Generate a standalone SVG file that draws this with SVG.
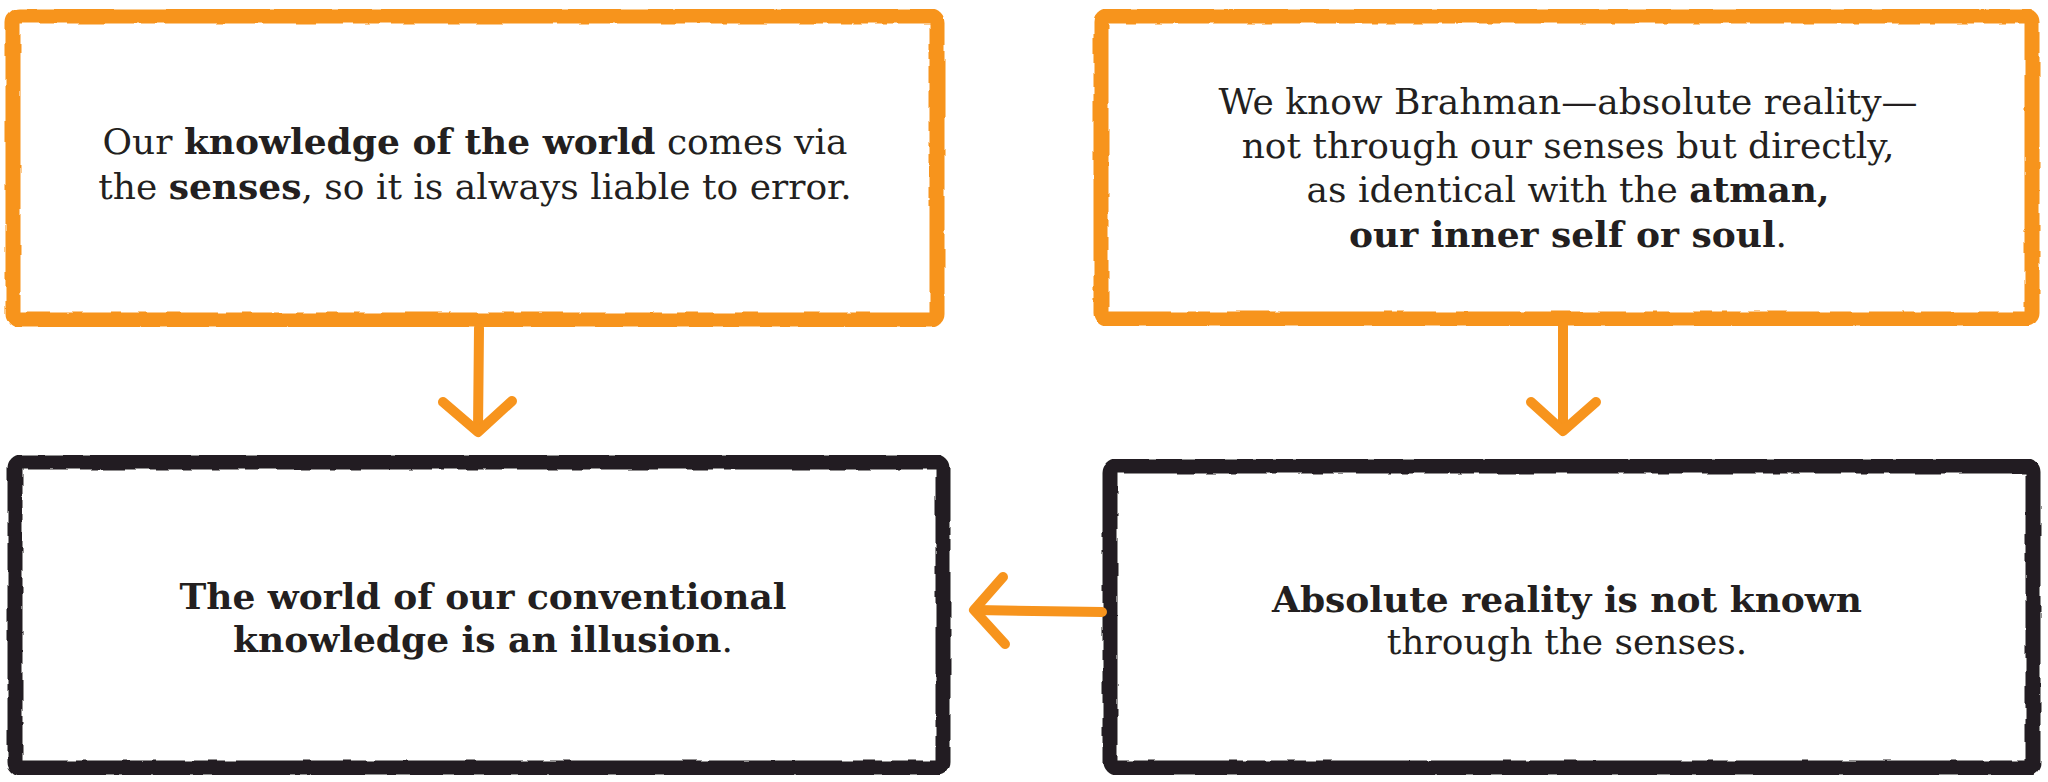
<svg xmlns="http://www.w3.org/2000/svg" width="2048" height="782" viewBox="0 0 2048 782">
  <defs>
    <filter id="rough" x="-2%" y="-2%" width="104%" height="104%">
      <feTurbulence type="fractalNoise" baseFrequency="0.05" numOctaves="2" seed="3" result="n"/>
      <feDisplacementMap in="SourceGraphic" in2="n" scale="4" xChannelSelector="R" yChannelSelector="G"/>
    </filter>
  </defs>
  <style>
    .box { fill: #ffffff; stroke-width: 15; stroke-linejoin: round; filter: url(#rough); }
    .orange { stroke: #F7941D; }
    .black { stroke: #231F20; }
    .arrow { fill: none; stroke: #F7941D; stroke-width: 10; stroke-linecap: round; stroke-linejoin: round; }
    .t { font-family: "DejaVu Serif", "Liberation Serif", serif; font-size: 36px; fill: #231F20; text-anchor: middle; }
    .b { font-weight: bold; }
  </style>
  <rect width="2048" height="782" fill="#ffffff"/>

  <g id="node-senses">
    <rect class="box orange" x="13" y="16" width="924" height="304" rx="6"/>
    <text class="t" x="475" y="154">Our <tspan class="b">knowledge of the world</tspan> comes via</text>
    <text class="t" x="475" y="199">the <tspan class="b">senses</tspan>, so it is always liable to error.</text>
  </g>

  <g id="node-brahman">
    <rect class="box orange" x="1101" y="16" width="931" height="303" rx="6"/>
    <text class="t" x="1568" y="114">We know Brahman—absolute reality—</text>
    <text class="t" x="1568" y="158">not through our senses but directly,</text>
    <text class="t" x="1568" y="202">as identical with the <tspan class="b">atman,</tspan></text>
    <text class="t" x="1568" y="247"><tspan class="b">our inner self or soul</tspan>.</text>
  </g>

  <g id="node-illusion">
    <rect class="box black" x="15" y="462" width="928" height="306" rx="6"/>
    <text class="t" x="483" y="609"><tspan class="b">The world of our conventional</tspan></text>
    <text class="t" x="483" y="652"><tspan class="b">knowledge is an illusion</tspan>.</text>
  </g>

  <g id="node-absolute">
    <rect class="box black" x="1110" y="466" width="923" height="302" rx="6"/>
    <text class="t" x="1567" y="612"><tspan class="b">Absolute reality is not known</tspan></text>
    <text class="t" x="1567" y="654">through the senses.</text>
  </g>

  <g id="connectors">
    <path class="arrow" d="M479,328 L478,430"/>
    <path class="arrow" d="M443,402 L478,432 L512,401"/>
    <path class="arrow" d="M1563,326 L1563,429"/>
    <path class="arrow" d="M1531,402 L1563,431 L1596,402"/>
    <path class="arrow" d="M1102,612 L976,610"/>
    <path class="arrow" d="M1003,577 L974,610 L1005,644"/>
  </g>
</svg>
